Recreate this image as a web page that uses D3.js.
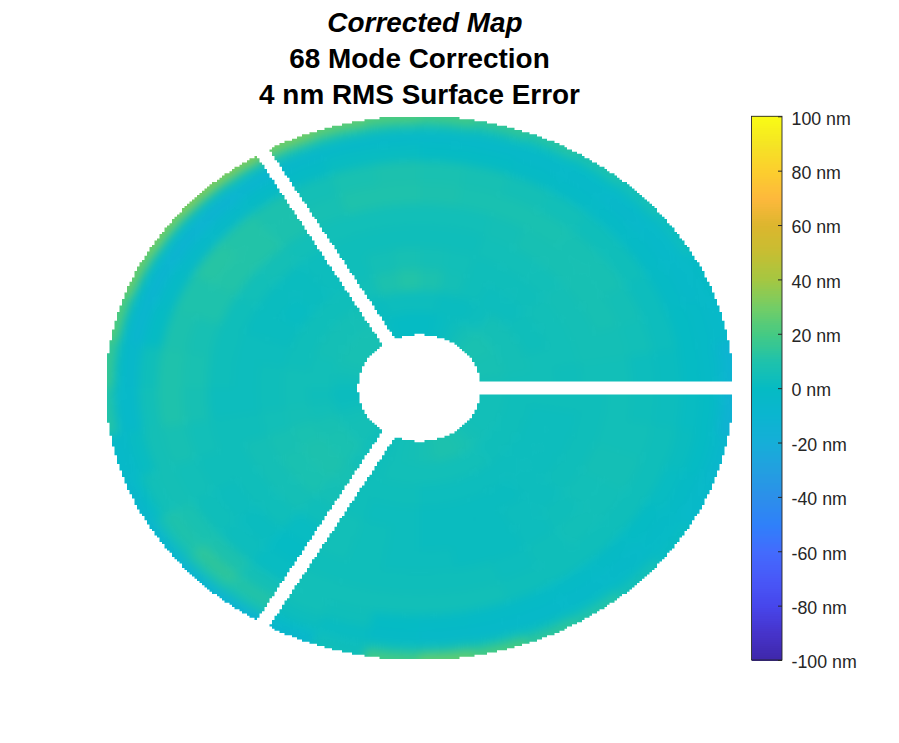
<!DOCTYPE html>
<html><head><meta charset="utf-8">
<script src="https://cdnjs.cloudflare.com/ajax/libs/d3/7.8.5/d3.min.js"></script>
<style>html,body{margin:0;padding:0;background:#fff}svg{display:block}text{font-family:"Liberation Sans",Arial,sans-serif}</style>
</head><body><script>
const titleLines = ["Corrected Map","68 Mode Correction","4 nm RMS Surface Error"];
const tickValues = [100,80,60,40,20,0,-20,-40,-60,-80,-100];
const colorStops = [-100,-90,-80,-70,-60,-50,-40,-30,-20,-10,0,10,20,30,40,50,60,70,80,90,100];
const colorHexes = ["#3e26a8","#4633ca","#4746eb","#4858f8","#436bfd","#2f80fa","#2c8fea","#239fe0","#16aed8","#0bb5d0","#05bbc4","#1ec2ac","#44ca84","#73cd66","#a4c742","#c6be32","#dcb62e","#fdb83c","#fcce2e","#f5e424","#f9fb15"];
const ringEdges = [.196,.28,.36,.44,.52,.60,.68,.76,.84,.90,.95,.98,1];
const sectorStep = 10;
// one row per 10 degree sector, counter-clockwise from +x; one value per ring, nm
const surface = [
[6,5,5,4,5,5,3,2,0,-2,-6,-12],[7,6,5,5,6,6,5,3,0,-2,-3,-4],[7,6,4,5,6,7,6,3,-1,-3,-3,-1],
[8,6,4,5,6,7,7,4,-2,-4,-3,3],[8,6,3,4,5,7,7,4,-2,-5,-2,6],[6,3,3,4,5,7,8,5,-2,-4,0,9],
[3,2,4,4,5,6,8,6,-1,-4,1,12],[1,2,6,5,4,5,8,7,0,-4,3,15],[0,3,9,6,4,5,9,8,0,-4,5,19],
[0,3,11,7,4,5,10,9,1,-4,7,22],[0,3,9,6,4,5,10,8,1,-4,8,25],[1,2,5,4,4,5,7,6,-1,-5,9,29],
[7,6,4,3,3,5,9,9,-2,-9,4,31],[7,6,4,2,2,6,11,11,-3,-11,2,31],[7,6,4,1,2,5,11,12,-3,-11,1,29],
[7,6,4,2,2,4,10,10,-2,-10,0,27],[6,5,4,3,3,4,7,9,0,-8,-2,22],[4,5,5,4,3,4,8,10,4,-5,-2,16],
[2,4,5,4,3,3,7,10,5,-4,-4,11],[3,5,6,5,4,4,5,7,6,1,-3,-3],[5,7,8,7,6,4,4,5,6,5,0,-6],
[6,8,9,8,6,4,3,4,8,10,5,-8],[6,8,9,8,6,4,2,3,9,14,8,-10],[4,5,7,6,4,1,0,1,6,11,6,-11],
[4,4,4,4,5,5,4,5,5,3,-2,-7],[5,5,4,3,4,4,4,5,4,1,3,4],[6,5,4,3,3,3,4,5,0,-2,5,19],
[7,5,3,2,2,3,4,5,-1,-3,6,25],[9,5,3,2,2,2,4,5,-2,-4,4,20],[9,5,3,2,2,2,3,4,-2,-4,2,14],
[8,5,3,2,3,3,4,4,-2,-4,1,11],[6,4,3,3,3,4,5,4,-1,-3,-1,6],[5,4,3,3,4,5,5,4,0,-2,-2,1],
[5,4,3,3,4,6,6,4,1,-1,-3,-4],[5,4,3,3,4,5,5,4,2,0,-3,-7],[5,4,4,4,4,5,4,3,1,0,-6,-14]
];
const W=899,H=743, cx=419.5, cy=388, rx=312.5, ry=271;
const gridN=250, rimR=1.004, holeR=.197, strutHalf=.023, strutAngles=[0,120,240];
const svg=d3.select("body").append("svg").attr("width",W).attr("height",H);
const color=d3.scaleLinear().domain(colorStops).range(colorHexes).interpolate(d3.interpolateRgb);
const xPx=d3.scaleLinear().domain([-1,1]).range([cx-rx,cx+rx]);
const yPx=d3.scaleLinear().domain([-1,1]).range([cy+ry,cy-ry]);
const cellIdx=d3.range(gridN);
const u=i=>-1+(i+.5)*2/gridN;
const inside=(a,b)=>{
  const r=Math.hypot(a,b); if(r>rimR||r<holeR) return false;
  for(const t of strutAngles){const c=Math.cos(t*Math.PI/180),s=Math.sin(t*Math.PI/180);
    if(a*c+b*s>0&&Math.abs(-a*s+b*c)<strutHalf) return false;}
  return true;
};
let mask=d3.path();
cellIdx.forEach(j=>{let start=null;
  for(let i=0;i<=gridN;i++){const on=i<gridN&&inside(u(i),-u(j));
    if(on&&start===null) start=i;
    if(!on&&start!==null){const x0=xPx(-1+start*2/gridN),x1=xPx(-1+i*2/gridN),y0=yPx(1-j*2/gridN),y1=yPx(1-(j+1)*2/gridN);
      mask.rect(x0,y0,x1-x0,y1-y0);start=null;}
  }});
const defs=svg.append("defs");
defs.append("clipPath").attr("id","aperture").append("path").attr("d",mask.toString());
defs.append("filter").attr("id","soft").attr("filterUnits","userSpaceOnUse").attr("x",0).attr("y",0).attr("width",W).attr("height",H)
  .attr("color-interpolation-filters","sRGB")
  .append("feGaussianBlur").attr("stdDeviation",5);
const rScale=d3.scaleLinear().domain([0,1]).range([0,rx]);
const arc=d3.arc();
const cells=surface.flatMap((row,s)=>row.map((v,k)=>({s,k,v})));
const plot=svg.append("g").attr("clip-path","url(#aperture)").append("g").attr("filter","url(#soft)")
  .append("g").attr("transform",`translate(${cx},${cy}) scale(1,${ry/rx})`);
plot.selectAll("path").data(cells).join("path")
  .attr("d",d=>arc({innerRadius:rScale(d.k===0?.1:ringEdges[d.k]),outerRadius:rScale(d.k===ringEdges.length-2?1.12:ringEdges[d.k+1]),
    startAngle:(90-d.s*sectorStep-sectorStep)*Math.PI/180,endAngle:(90-d.s*sectorStep)*Math.PI/180}))
  .attr("fill",d=>color(d.v)).attr("stroke",d=>color(d.v)).attr("stroke-width",1);
// title
svg.selectAll("text.title").data(titleLines).join("text").attr("class","title")
  .attr("x",(d,i)=>i===0?cx+5.5:cx).attr("y",(d,i)=>[31.5,68,104][i]).attr("text-anchor","middle")
  .attr("font-size",27.9).attr("font-weight","bold").attr("font-style",(d,i)=>i===0?"italic":"normal").attr("fill","#000").text(d=>d);
// colour bar
const cbX=751.5,cbW=30.5,cbTop=116.3,cbBot=660;
const cbY=d3.scaleLinear().domain([-100,100]).range([cbBot,cbTop]);
const levels=d3.range(256).map(i=>-100+(i+.5)*200/256);
svg.append("g").attr("shape-rendering","crispEdges").selectAll("rect").data(levels).join("rect")
  .attr("x",cbX).attr("width",cbW).attr("y",d=>cbY(d+100/256)).attr("height",d=>cbY(d-100/256)-cbY(d+100/256)+1)
  .attr("fill",d=>color(d));
const axis=d3.axisRight(cbY).tickValues(tickValues).tickSizeInner(-4).tickSizeOuter(0).tickPadding(9.5).tickFormat(d=>d+" nm");
const ag=svg.append("g").attr("transform",`translate(${cbX+cbW},0)`).call(axis);
ag.select(".domain").remove();
ag.selectAll("line").attr("stroke","#262626");
ag.selectAll("text").attr("font-size",17.8).attr("fill","#262626").attr("font-family","'Liberation Sans',Arial,sans-serif").attr("dy","0.44em");
svg.append("rect").attr("x",cbX).attr("y",cbTop).attr("width",cbW).attr("height",cbBot-cbTop).attr("fill","none").attr("stroke","#262626").attr("stroke-width",.9);
</script></body></html>
